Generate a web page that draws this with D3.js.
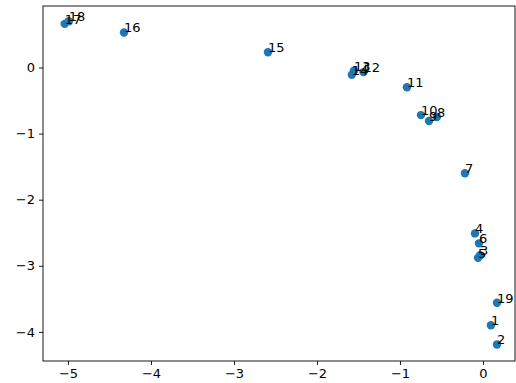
<!DOCTYPE html>
<html><head><meta charset="utf-8">
<script src="https://cdn.jsdelivr.net/npm/d3@7"></script>
<style>body{margin:0;background:#fff}svg{display:block}text{font-family:"DejaVu Sans",sans-serif}</style>
</head><body><svg id="c" width="516" height="383"></svg>
<script>
const labels = [1,2,3,4,5,6,7,8,9,10,11,12,13,14,15,16,17,18,19];
const xs = [0.096,0.169,-0.035,-0.096,-0.06,-0.048,-0.217,-0.555,-0.65,-0.747,-0.916,-1.44,-1.555,-1.58,-2.59,-4.325,-5.04,-4.99,0.169];
const ys = [-3.90,-4.19,-2.84,-2.51,-2.88,-2.66,-1.60,-0.75,-0.81,-0.72,-0.30,-0.07,-0.05,-0.11,0.23,0.53,0.66,0.70,-3.56];
const xTicks = [-5,-4,-3,-2,-1,0];
const yTicks = [-4,-3,-2,-1,0];

const L=43,R=515,T=6,B=361;
const x = d3.scaleLinear().domain([-5.301,0.386]).range([L,R]);
const y = d3.scaleLinear().domain([0.93,-4.44]).range([T,B]);
const svg = d3.select("#c");
const fmt = d=> d<0 ? "\u2212"+Math.abs(d) : String(d);
const gx = svg.append("g").attr("transform",`translate(0,${B})`)
  .call(d3.axisBottom(x).tickValues(xTicks).tickFormat(fmt).tickSizeOuter(0).tickSize(4).tickPadding(4));
const gy = svg.append("g").attr("transform",`translate(${L},0)`)
  .call(d3.axisLeft(y).tickValues(yTicks).tickFormat(fmt).tickSizeOuter(0).tickSize(4).tickPadding(4));
[gx,gy].forEach(g=>{g.selectAll("text").attr("font-size",13).attr("fill","#000").attr("font-family","DejaVu Sans");g.select(".domain").remove();g.selectAll("line").attr("stroke","#000").attr("stroke-width",0.9);});
svg.append("rect").attr("x",L).attr("y",T).attr("width",R-L).attr("height",B-T).attr("fill","none").attr("stroke","#000").attr("stroke-width",0.9);
const data = labels.map((l,i)=>({l,x:xs[i],y:ys[i]}));
svg.append("g").selectAll("circle").data(data).join("circle")
  .attr("cx",d=>x(d.x)).attr("cy",d=>y(d.y)).attr("r",4.2).attr("fill","#1f77b4");
svg.append("g").selectAll("text").data(data).join("text")
  .attr("x",d=>x(d.x)).attr("y",d=>y(d.y)).attr("font-size",13).attr("fill","#000").text(d=>d.l);
</script></body></html>
